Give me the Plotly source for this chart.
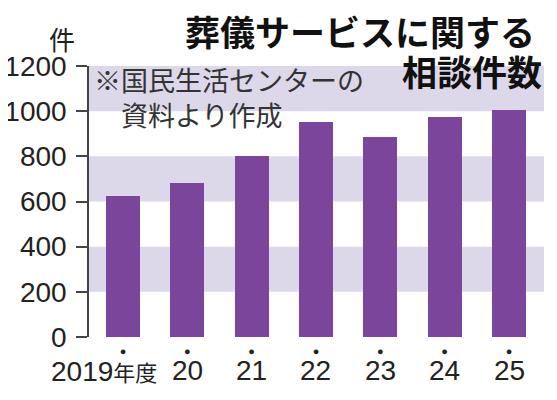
import plotly.graph_objects as go

# Data
# --------------------
years = ["2019年度", "20", "21", "22", "23", "24", "25"]
consults = [625, 680, 800, 950, 885, 975, 1005]
y_ticks = [0, 200, 400, 600, 800, 1000, 1200]

title_lines = ["葬儀サービスに関する", "相談件数"]
note_lines = ["※国民生活センターの", "資料より作成"]
unit_label = "件"

# Layout constants (screen pixels); the page body adds an 8px offset
OFF = 8
W, H = 557 - OFF, 400 - OFF
L, R, T, B = 89 - OFF, 13, 66 - OFF, 62.5
PW, PH = W - L - R, H - T - B

JP = "Noto Sans CJK JP"
NUM = "Liberation Sans, Arial"
INK = "#222222"
BAR = "#7A459A"
BAND = "#DDD7EA"


def px(x):
    """screen pixel x -> paper x"""
    return (x - OFF - L) / PW


def py(y):
    """screen pixel y (from top) -> paper y"""
    return (OFF + H - B - y) / PH


fig = go.Figure()
fig.add_trace(go.Bar(
    x=list(range(len(years))), y=consults,
    marker=dict(color=BAR, line=dict(width=0)),
    width=0.53, hoverinfo="skip",
))

# light bands between every other tick pair
for lo, hi in zip(y_ticks[1::2], y_ticks[2::2]):
    fig.add_shape(type="rect", xref="paper", x0=0, x1=1, yref="y", y0=lo, y1=hi,
                  fillcolor=BAND, line=dict(width=0), layer="below")

anns = []
# year labels under the bars
for i, lab in enumerate(years):
    if i == 0:
        txt = "2019<span style='font-size:22px;font-family:Noto Sans CJK JP'>年度</span>"
        anns.append(dict(x=i, xref="x", y=py(371.5), yref="paper", text=txt,
                         xanchor="right", xshift=36, yanchor="middle", showarrow=False,
                         font=dict(family=NUM, size=28, color=INK)))
    else:
        anns.append(dict(x=i, xref="x", y=py(371.5), yref="paper", text=lab,
                         xanchor="center", yanchor="middle", showarrow=False,
                         font=dict(family=NUM, size=28, color=INK)))

# title, right aligned
anns.append(dict(x=px(537), y=py(30), xref="paper", yref="paper", text=title_lines[0],
                 xanchor="right", yanchor="middle", showarrow=False,
                 font=dict(family=JP, size=35, color="#111111", weight=700)))
anns.append(dict(x=px(544), y=py(71), xref="paper", yref="paper", text=title_lines[1],
                 xanchor="right", yanchor="middle", showarrow=False,
                 font=dict(family=JP, size=35, color="#111111", weight=700)))

# source note
anns.append(dict(x=px(92), y=py(80), xref="paper", yref="paper", text=note_lines[0],
                 xanchor="left", yanchor="middle", showarrow=False,
                 font=dict(family=JP, size=27, color="#333333")))
anns.append(dict(x=px(119), y=py(114.5), xref="paper", yref="paper", text=note_lines[1],
                 xanchor="left", yanchor="middle", showarrow=False,
                 font=dict(family=JP, size=27, color="#333333")))

# unit
anns.append(dict(x=px(62), y=py(38), xref="paper", yref="paper", text=unit_label,
                 xanchor="center", yanchor="middle", showarrow=False,
                 font=dict(family=JP, size=26, color=INK)))

fig.update_layout(
    width=W, height=H,
    margin=dict(l=L, r=R, t=T, b=B, pad=0, autoexpand=False),
    plot_bgcolor="white", paper_bgcolor="white",
    showlegend=False,
    bargap=0,
    annotations=anns,
    xaxis=dict(
        range=[-0.528, 6.544],
        tickvals=list(range(len(years))),
        ticktext=["●"] * len(years),
        tickfont=dict(size=11, color=INK),
        ticklabelstandoff=6,
        showline=False, showgrid=False, zeroline=False, ticks="",
        automargin=False, fixedrange=True,
    ),
    yaxis=dict(
        range=[0, 1200],
        tickvals=y_ticks,
        tickfont=dict(family=NUM, size=28, color=INK),
        ticks="outside", ticklen=11, tickwidth=1.5, tickcolor="#444444",
        ticklabelstandoff=4,
        showline=True, linecolor="#444444", linewidth=1.5,
        showgrid=False, zeroline=False,
        automargin=False, fixedrange=True,
    ),
)

fig.write_html("out.html")
